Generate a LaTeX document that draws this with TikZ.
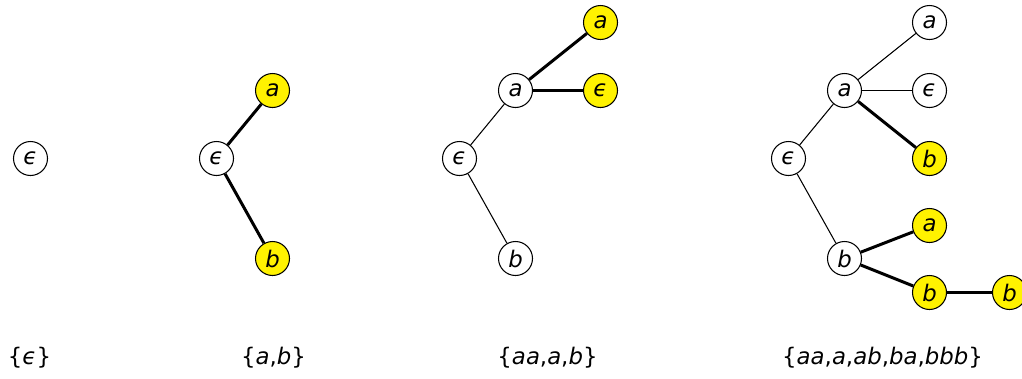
\documentclass[tikz,border=0pt]{standalone}
\usepackage{fontspec}
\setmainfont{DejaVu Sans}
\usetikzlibrary{positioning}
\tikzset{
	st/.style={circle, draw, line width=0.6pt, fill=white, minimum size=0.68cm, inner sep=0pt, font=\fontsize{13}{15}\selectfont\itshape},
	hit/.style={st, fill=yellow},
	link/.style={line width=0.6pt},
	trail/.style={line width=1.7pt},
	set/.style={font=\fontsize{13}{15}\selectfont},
}
\begin{document}
\begin{tikzpicture}[x=0.02cm, y=-0.02cm]
		\useasboundingbox (-0.5,-0.5) rectangle (1021.5,378.5);
		% first tree
		\node [st] (0) at (30, 158) {ϵ};
		% second tree
		\node [st] (1) at (216, 158) {ϵ};
		\node [hit] (1a) at (272, 90) {a};
		\node [hit] (1b) at (272, 258) {b};
		\draw [trail] (1) to (1a);
		\draw [trail] (1) to (1b);
		% third tree
		\node [st] (2) at (459, 158) {ϵ};
		\node [st] (2a) at (515, 90) {a};
		\node [st] (2b) at (515, 258) {b};
		\node [hit] (2aa) at (600, 22) {a};
		\node [hit] (2ae) at (600, 90) {ϵ};
		\draw [link] (2) to (2a);
		\draw [link] (2) to (2b);
		\draw [trail] (2a) to (2aa);
		\draw [trail] (2a) to (2ae);
		% fourth tree
		\node [st] (3) at (788, 158) {ϵ};
		\node [st] (3a) at (844, 90) {a};
		\node [st] (3b) at (844, 258) {b};
		\node [st] (3aa) at (929, 22) {a};
		\node [st] (3ae) at (929, 90) {ϵ};
		\node [hit] (3ab) at (929, 158) {b};
		\node [hit] (3ba) at (929, 225) {a};
		\node [hit] (3bb) at (929, 292) {b};
		\node [hit] (3bbb) at (1009, 292) {b};
		\draw [link] (3) to (3a);
		\draw [link] (3) to (3b);
		\draw [link] (3a) to (3aa);
		\draw [link] (3a) to (3ae);
		\draw [trail] (3a) to (3ab);
		\draw [trail] (3b) to (3ba);
		\draw [trail] (3b) to (3bb);
		\draw [trail] (3bb) to (3bbb);
		% the sets below
		\node [set] (s0) at (29, 357) {\{\textit{ϵ}\}};
		\node [set] (s1) at (273, 357) {\{\textit{a},\textit{b}\}};
		\node [set] (s2) at (547, 357) {\{\textit{aa},\textit{a},\textit{b}\}};
		\node [set] (s3) at (882, 357) {\{\textit{aa},\textit{a},\textit{ab},\textit{ba},\textit{bbb}\}};
	\end{tikzpicture}
\end{document}
